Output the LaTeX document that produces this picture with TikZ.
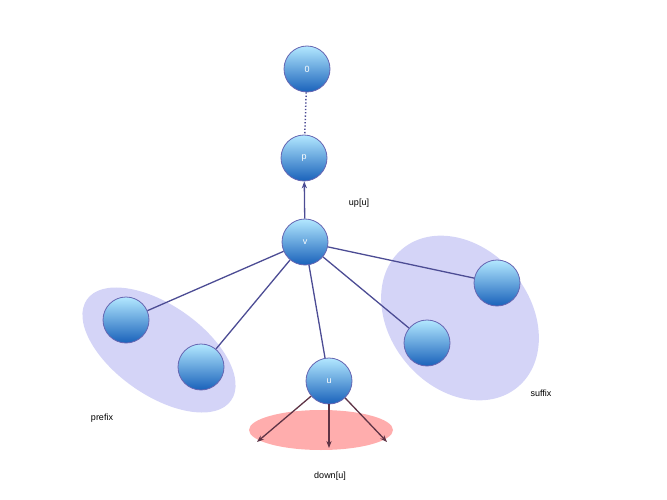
\documentclass[tikz,border=0pt]{standalone}
\usepackage{fontspec}
\setmainfont{Liberation Sans}
\usetikzlibrary{arrows.meta}
\begin{document}
\begin{tikzpicture}[x=1pt,y=-1pt,
  nd/.style={circle,minimum size=46pt,inner sep=0pt,draw=blue!50!black!60,line width=0.8pt,
    top color=blue!30!cyan!30!white,bottom color=blue!55!cyan!70!black!90,shading angle=0,
    text=white,font=\small},
  ln/.style={draw=blue!40!black!70,line width=1.3pt},
  lbl/.style={font=\small}]
\useasboundingbox (0,0) rectangle (667,500);
\fill[blue!30!black!10!white!80!blue,opacity=0.6,rotate around={-35:(159,350)}] (159,350) ellipse (88 and 45);
\fill[blue!30!black!10!white!80!blue,opacity=0.6,rotate around={-50:(460,318)}] (460,318) ellipse (90 and 70);
\fill[red!40,opacity=0.8] (321,430) ellipse (72 and 20);
\node[nd] (n0) at (307,69) {0};
\node[nd] (p) at (304,158) {p};
\node[nd] (v) at (305,242) {v};
\node[nd] (u) at (329,381) {u};
\node[nd] (l1) at (126,320) {};
\node[nd] (l2) at (201,367) {};
\node[nd] (r1) at (497,283) {};
\node[nd] (r2) at (427,343) {};
\draw[ln,dotted,line width=1.5pt] (n0) -- (p);
\draw[ln,-{Stealth[length=7pt]}] (v) -- (p);
\foreach \t in {l1,l2,u,r1,r2} \draw[ln] (v) -- (\t);
\coordinate (d1) at (257,442);
\coordinate (d2) at (329,448);
\coordinate (d3) at (387,442);
\foreach \d in {d1,d2,d3} \draw[ln,draw=blue!30!red!30!black!80,-{Stealth[length=7pt]}] (u) -- (\d);
\node[lbl] (up) at (359,203) {up[u]};
\node[lbl] (pre) at (102,418) {prefix};
\node[lbl] (suf) at (541,393) {suffix};
\node[lbl] (dn) at (330,476) {down[u]};
\end{tikzpicture}
\end{document}
